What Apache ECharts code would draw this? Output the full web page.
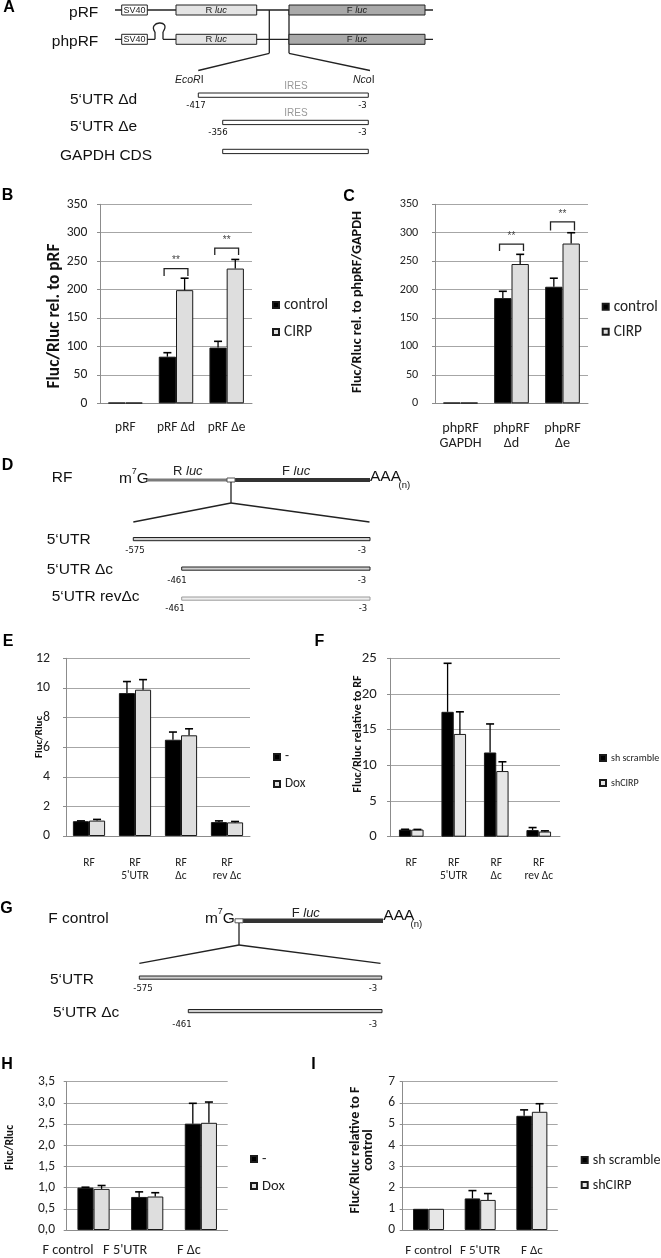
<!DOCTYPE html>
<html><head><meta charset="utf-8">
<script src="https://cdn.jsdelivr.net/npm/echarts@6/dist/echarts.min.js"></script>
<style>html,body{margin:0;padding:0;background:#fff}#c{width:661px;height:1258px}</style>
</head><body><div id="c"></div>
<script>
// ---------------- DATA ----------------
const catsB = ['pRF', 'pRF Δd', 'pRF Δe'];
const controlB = [1, 82, 98];
const controlBErr = [0, 7, 11];
const cirpB = [1, 199, 237];
const cirpBErr = [0, 21, 16];
const sigB = [[1, 237, 224], [2, 273, 261]];

const catsC = ['phpRF\nGAPDH', 'phpRF\nΔd', 'phpRF\nΔe'];
const controlC = [1, 185, 205];
const controlCErr = [0, 12, 15];
const cirpC = [1, 245, 281];
const cirpCErr = [0, 17, 19];
const sigC = [[1, 280, 268], [2, 319, 304]];

const catsE = ['RF', "RF\n5'UTR", 'RF\nΔc', 'RF\nrev Δc'];
const minusE = [1.0, 9.65, 6.5, 0.94];
const minusEErr = [0.02, 0.78, 0.52, 0.08];
const doxE = [1.04, 9.88, 6.8, 0.92];
const doxEErr = [0.08, 0.68, 0.44, 0.06];

const catsF = ['RF', "RF\n5'UTR", 'RF\nΔc', 'RF\nrev Δc'];
const scrambleF = [1.0, 17.5, 11.8, 0.93];
const scrambleFErr = [0.04, 6.8, 4.0, 0.35];
const shCirpF = [1.0, 14.4, 9.2, 0.72];
const shCirpFErr = [0.02, 3.1, 1.3, 0.1];

const catsH = ['F control', "F 5'UTR", 'F Δc'];
const minusH = [1.0, 0.78, 2.51];
const minusHErr = [0.01, 0.12, 0.48];
const doxH = [0.97, 0.79, 2.53];
const doxHErr = [0.08, 0.09, 0.49];

const catsI = ['F control', "F 5'UTR", 'F Δc'];
const scrambleI = [1.0, 1.49, 5.39];
const scrambleIErr = [0, 0.37, 0.28];
const shCirpI = [1.0, 1.42, 5.58];
const shCirpIErr = [0, 0.3, 0.38];

// ---------------- STYLE ----------------
const mctx = document.createElement('canvas').getContext('2d');
function hasFont(f) {
  mctx.font = '40px monospace'; const a = mctx.measureText('abcdefgWMil').width;
  mctx.font = '40px "' + f + '", monospace'; return mctx.measureText('abcdefgWMil').width !== a;
}
const CARLITO = hasFont('Carlito');
const FONT = CARLITO ? 'Carlito, Lato, sans-serif' : 'Lato, "Open Sans", sans-serif';
const DFONT = '"Liberation Sans", Arial, sans-serif';
const NFONT = '"Liberation Sans Narrow", "DejaVu Sans Condensed", "Liberation Sans", sans-serif';
const DARK = '#000000', LIGHT = '#dedede', EDGE = '#1a1a1a';

// size spec: number, or [text, target width, scale]
function sz(spec, weight) {
  if (typeof spec === 'number') return spec;
  mctx.font = (weight || 'normal') + ' 100px ' + FONT;
  const s = 100 * spec[1] / mctx.measureText(spec[0]).width;
  return Math.round(10 * s * (CARLITO ? 1 : (spec[2] || 1))) / 10;
}

const grids = [], xAxes = [], yAxes = [], series = [], legends = [];

function errRender(sign, pct) {
  return function (params, api) {
    const c = api.value(0), v = api.value(1), e = api.value(2);
    if (!(e > 0)) return null;
    const band = api.size([1, 0])[0];
    const p0 = api.coord([c, v]);
    const p1 = api.coord([c, v + e]);
    const x = p0[0] + sign * band * pct / 2;
    return {type: 'group', children: [
      {type: 'line', shape: {x1: x, y1: p0[1], x2: x, y2: p1[1]}, style: {stroke: '#000', lineWidth: 1.3}},
      {type: 'line', shape: {x1: x - 4, y1: p1[1], x2: x + 4, y2: p1[1]}, style: {stroke: '#000', lineWidth: 1.6}}
    ]};
  };
}
function bracketRender(params, api) {
  const c = api.value(0), top = api.value(1), bot = api.value(2);
  const band = api.size([1, 0])[0];
  const pt = api.coord([c, top]);
  const yb = api.coord([c, bot])[1];
  const xl = pt[0] - band * 0.235, xr = pt[0] + band * 0.235;
  return {type: 'group', children: [
    {type: 'polyline', shape: {points: [[xl, yb], [xl, pt[1]], [xr, pt[1]], [xr, yb]]}, style: {stroke: '#222', lineWidth: 1.3, fill: null}},
    {type: 'text', style: {text: '**', x: pt[0], y: pt[1] - 3, align: 'center', verticalAlign: 'bottom', textAlign: 'center', textVerticalAlign: 'bottom', fontSize: 10, fontFamily: DFONT, fill: '#444'}}
  ]};
}

function panel(cfg) {
  const k = grids.length;
  const [gl, gt, gw, gh] = cfg.g;
  grids.push({left: gl, top: gt, width: gw, height: gh, containLabel: false, outerBoundsMode: 'none'});
  const xs = sz(cfg.xl[0]);
  const xlh = cfg.xl[2] || Math.round(xs * 1.2);
  const xm = cfg.xl[1] - (gt + gh) - xlh / 2;
  xAxes.push({type: 'category', gridIndex: k, data: cfg.cats,
    axisLine: {lineStyle: {color: '#8c8c8c'}},
    axisTick: {length: 5, lineStyle: {color: '#8c8c8c'}},
    axisLabel: {interval: 0, margin: xm, fontFamily: FONT, fontSize: xs, lineHeight: xlh, color: '#222', align: cfg.xalign || 'center'}});
  const ys = sz(cfg.yt[0]);
  const ns = sz(cfg.yn[0], 'bold');
  const nlh = cfg.yn[3] || Math.round(ns * 1.15);
  const lines = cfg.yname.split('\n').length;
  const gap = gl - cfg.yn[1] - nlh * lines / 2;
  const shift = cfg.yn[2] - (gt + gh / 2);
  const pad = shift >= 0 ? [0, 2 * shift, 0, 0] : [0, 0, 0, -2 * shift];
  yAxes.push({type: 'value', gridIndex: k, min: 0, max: cfg.ymax, interval: cfg.yint,
    name: cfg.yname, nameLocation: 'middle', nameGap: gap, nameRotate: 90, nameMoveOverlap: false,
    nameTextStyle: {fontFamily: FONT, fontSize: ns, fontWeight: 'bold', color: '#111', lineHeight: nlh, padding: pad, align: 'center'},
    axisLine: {show: true, lineStyle: {color: '#8c8c8c'}},
    axisTick: {show: true, length: 3, lineStyle: {color: '#8c8c8c'}},
    splitLine: {show: true, lineStyle: {color: '#a6a6a6'}},
    axisLabel: {margin: gl - cfg.yt[1], fontFamily: FONT, fontSize: ys, color: '#222', formatter: cfg.yfmt}});
  const bw = cfg.bw;
  series.push({type: 'bar', name: cfg.n1, xAxisIndex: k, yAxisIndex: k, data: cfg.s1, barWidth: (bw * 100) + '%', barGap: '0%',
    itemStyle: {color: DARK, borderColor: EDGE, borderWidth: 1}});
  series.push({type: 'bar', name: cfg.n2, xAxisIndex: k, yAxisIndex: k, data: cfg.s2, barWidth: (bw * 100) + '%', barGap: '0%',
    itemStyle: {color: cfg.c2 || LIGHT, borderColor: EDGE, borderWidth: 1}});
  series.push({type: 'custom', xAxisIndex: k, yAxisIndex: k, z: 5, renderItem: errRender(-1, bw),
    encode: {x: 0, y: 1}, data: cfg.s1.map((v, i) => [i, v, cfg.e1[i]])});
  series.push({type: 'custom', xAxisIndex: k, yAxisIndex: k, z: 5, renderItem: errRender(1, bw),
    encode: {x: 0, y: 1}, data: cfg.s2.map((v, i) => [i, v, cfg.e2[i]])});
  if (cfg.sig) series.push({type: 'custom', xAxisIndex: k, yAxisIndex: k, z: 6, renderItem: bracketRender,
    encode: {x: 0, y: 1}, data: cfg.sig});
  const ls = sz(cfg.lg[0]);
  const llh = Math.round(ls * 1.2);
  legends.push({data: [cfg.n1, cfg.n2], left: cfg.lg[1], top: cfg.lg[2] - llh / 2, orient: 'vertical', icon: 'rect', padding: 0,
    itemWidth: 6, itemHeight: 6, itemGap: (cfg.lg[3] - cfg.lg[2]) - llh, selectedMode: false,
    textStyle: {fontFamily: FONT, fontSize: ls, color: '#222', lineHeight: llh}});
}

panel({cats: catsB, s1: controlB, e1: controlBErr, s2: cirpB, e2: cirpBErr, sig: sigB, n1: 'control', n2: 'CIRP',
  g: [100, 204.3, 152, 199], ymax: 350, yint: 50, yname: 'Fluc/Rluc rel. to pRF',
  yn: [['Fluc/Rluc rel. to pRF', 145, 0.9], 55, 316], yt: [['350', 20.7], 87.3], xl: [['pRF Δd', 38, 1.05], 428],
  bw: 0.34, lg: [['control', 44, 1.05], 272, 305, 332]});
panel({cats: catsC, s1: controlC, e1: controlCErr, s2: cirpC, e2: cirpCErr, sig: sigC, n1: 'control', n2: 'CIRP',
  g: [435, 204.3, 153, 199], ymax: 350, yint: 50, yname: 'Fluc/Rluc rel. to phpRF/GAPDH',
  yn: [['Fluc/Rluc rel. to phpRF/GAPDH', 182, 1.03], 357.5, 302], yt: [['350', 18.5], 418.3], xl: [['phpRF', 36.7, 1.05], 428.3, 15],
  bw: 0.34, lg: [['control', 44, 1.05], 601.7, 306.7, 331.7]});
panel({cats: catsE, s1: minusE, e1: minusEErr, s2: doxE, e2: doxEErr, n1: '-', n2: 'Dox',
  g: [66, 658.3, 184, 177.7], ymax: 12, yint: 2, yname: 'Fluc/Rluc',
  yn: [['Fluc/Rluc', 42, 1.15], 39, 737], yt: [['12', 14], 50], xl: [["5'UTR", 27.7, 1.12], 863, 13],
  bw: 0.35, lg: [['Dox', 20.5, 1.1], 273, 757, 784]});
panel({cats: catsF, s1: scrambleF, e1: scrambleFErr, s2: shCirpF, e2: shCirpFErr, n1: 'sh scramble', n2: 'shCIRP', c2: '#e6e6e6',
  g: [390, 658.3, 170, 178.4], ymax: 25, yint: 5, yname: 'Fluc/Rluc relative to RF',
  yn: [['Fluc/Rluc relative to RF', 118, 1.03], 358, 734], yt: [['25', 15], 376.7], xl: [["5'UTR", 27.7, 1.12], 863, 13],
  bw: 0.29, lg: [10, 599, 758, 783]});
panel({cats: catsH, s1: minusH, e1: minusHErr, s2: doxH, e2: doxHErr, n1: '-', n2: 'Dox',
  g: [66.7, 1081.7, 161, 148.3], ymax: 3.5, yint: 0.5, yname: 'Fluc/Rluc',
  yfmt: v => v.toFixed(1).replace('.', ','),
  yn: [['Fluc/Rluc', 45, 1.12], 10.5, 1147.5], yt: [['3,5', 17], 55], xl: [['F control', 51], 1250.7],
  xalign: 'right', bw: 0.30, lg: [['Dox', 22.7, 1.1], 250, 1159, 1186]});
panel({cats: catsI, s1: scrambleI, e1: scrambleIErr, s2: shCirpI, e2: shCirpIErr, n1: 'sh scramble', n2: 'shCIRP', c2: '#e6e6e6',
  g: [402.7, 1081.7, 155, 148.3], ymax: 7, yint: 1, yname: 'Fluc/Rluc relative to F\ncontrol',
  yn: [['Fluc/Rluc relative to F', 127], 361.5, 1150, 13], yt: [['3,5', 17], 395], xl: [['F control', 46.7], 1250.7],
  bw: 0.30, lg: [['sh scramble', 68], 580.7, 1160, 1185]});

// ---------------- DIAGRAMS (graphic) ----------------
const G = [];
function T(x, y, text, o) {
  o = o || {};
  const al = o.align || 'left';
  const st = {text: text, fill: o.fill || '#111', align: al, textAlign: al, verticalAlign: 'middle', textVerticalAlign: 'middle',
    fontSize: o.size || 15.5, fontFamily: o.family || DFONT, fontStyle: o.style || 'normal', fontWeight: o.weight || 'normal'};
  if (o.rich) st.rich = o.rich;
  G.push({type: 'text', x: x, y: y, silent: true, style: st});
}
function L(x1, y1, x2, y2, c, w) {
  G.push({type: 'line', silent: true, shape: {x1, y1, x2, y2}, style: {stroke: c || '#222', lineWidth: w || 1.3}});
}
function R(x, y, w, h, fill, stroke, lw) {
  G.push({type: 'rect', silent: true, shape: {x, y, width: w, height: h}, style: {fill: fill, stroke: stroke || '#222', lineWidth: lw || 1}});
}
function lucRich(size) {
  return {n: {fontSize: size, fontFamily: DFONT, fill: '#222'}, i: {fontSize: size, fontFamily: DFONT, fontStyle: 'italic', fill: '#222'}};
}

[['A', 9, 7.5], ['B', 7.5, 196], ['C', 349, 197], ['D', 7.5, 465.5], ['E', 8, 642], ['F', 319.5, 642],
 ['G', 6.5, 909], ['H', 7, 1064.5], ['I', 313.5, 1064.5]].forEach(a => T(a[1], a[2], a[0], {align: 'center', size: 16, weight: 'bold', fill: '#000'}));

// --- A ---
T(98.3, 13, 'pRF', {align: 'right'});
T(98.3, 41.5, 'phpRF', {align: 'right'});
L(115, 10, 433, 10);
L(115, 39.3, 155, 39.3);
L(155, 39.3, 155, 32);
G.push({type: 'bezierCurve', silent: true, shape: {x1: 155, y1: 32, cpx1: 147, cpy1: 21, cpx2: 172, cpy2: 19, x2: 163, y2: 32}, style: {stroke: '#222', lineWidth: 1.3, fill: null}});
L(163, 32, 163, 39.3);
L(163, 39.3, 433, 39.3);
L(269.3, 10, 269.3, 53.3);
L(289, 10, 289, 53.3);
L(269.3, 53.3, 198.3, 70.5);
L(289, 53.3, 370, 70.5);
[5, 34.3].forEach(y => {
  R(121.7, y, 25.6, 10, '#fff');
  T(134.5, y + 5.2, 'SV40', {align: 'center', size: 9, fill: '#222'});
  R(176, y, 80.7, 10, '#e4e4e4');
  T(216.3, y + 5.2, '{n|R }{i|luc}', {align: 'center', size: 9.5, rich: lucRich(9.5)});
  R(289, y, 136, 10, '#a9a9a9');
  T(357, y + 5.2, '{n|F }{i|luc}', {align: 'center', size: 9.5, rich: lucRich(9.5)});
});
T(175, 80, '{i|EcoR}{n|I}', {size: 10.5, rich: lucRich(10.5)});
T(353, 80, '{i|Nco}{n|I}', {size: 10.5, rich: lucRich(10.5)});
T(70, 100, '5‘UTR Δd');
T(296, 86, 'IRES', {align: 'center', size: 10, fill: '#9a9a9a'});
R(198.3, 93, 170, 4.3, '#fff');
T(196, 106, '-417', {align: 'center', size: 9.5, family: NFONT});
T(362.5, 106, '-3', {align: 'center', size: 9.5, family: NFONT});
T(70, 127, '5‘UTR Δe');
T(296, 113, 'IRES', {align: 'center', size: 10, fill: '#9a9a9a'});
R(222.7, 120.3, 145.6, 4.3, '#fff');
T(218, 133, '-356', {align: 'center', size: 9.5, family: NFONT});
T(362.5, 133, '-3', {align: 'center', size: 9.5, family: NFONT});
T(60, 156, 'GAPDH CDS');
R(222.7, 149.3, 145.6, 4.3, '#fff');

// --- D ---
T(51.7, 478, 'RF');
T(119, 479, 'm');
T(131.7, 472, '7', {size: 9});
T(136.7, 479, 'G');
L(147, 480, 227, 480, '#7a7a7a', 3);
L(235, 480, 370, 480, '#333', 4);
R(227, 478, 8, 4, '#fff', '#555', 1);
T(370, 477, 'AAA');
T(398.5, 485, '(n)', {size: 9.5});
T(173, 471, '{n|R }{i|luc}', {size: 13, rich: lucRich(13)});
T(282, 471, '{n|F }{i|luc}', {size: 13, rich: lucRich(13)});
L(231, 482, 231, 503);
L(231, 503, 133.3, 522);
L(231, 503, 369.5, 522);
T(46.7, 540, '5‘UTR');
R(133.3, 537.5, 236.7, 3.2, '#cfcfcf', '#222', 1);
T(135, 551, '-575', {align: 'center', size: 9.5, family: NFONT});
T(362, 551, '-3', {align: 'center', size: 9.5, family: NFONT});
T(46.7, 570, '5‘UTR Δc');
R(181.7, 567, 188.3, 3.2, '#cfcfcf', '#222', 1);
T(177, 581, '-461', {align: 'center', size: 9.5, family: NFONT});
T(362, 581, '-3', {align: 'center', size: 9.5, family: NFONT});
T(51.7, 597, '5‘UTR revΔc');
R(181.7, 597, 188.3, 3.2, '#eeeeee', '#9a9a9a', 1);
T(175, 608.5, '-461', {align: 'center', size: 9.5, family: NFONT});
T(363, 609, '-3', {align: 'center', size: 9.5, family: NFONT});

// --- G ---
T(48.3, 918.5, 'F control');
T(205, 919, 'm');
T(217.7, 912, '7', {size: 9});
T(222.7, 919, 'G');
L(243, 920.8, 383, 920.8, '#333', 4.5);
R(235, 918.8, 8, 4, '#fff', '#555', 1);
T(383.3, 916, 'AAA');
T(410.5, 924.5, '(n)', {size: 9.5});
T(291.7, 913, '{n|F }{i|luc}', {size: 13, rich: lucRich(13)});
L(239, 923, 239, 945);
L(239, 945, 139.3, 963.3);
L(239, 945, 380.5, 963.3);
T(50, 980, '5‘UTR');
R(139.3, 976, 242.4, 3.2, '#cfcfcf', '#222', 1);
T(143, 989, '-575', {align: 'center', size: 9.5, family: NFONT});
T(373, 989, '-3', {align: 'center', size: 9.5, family: NFONT});
T(53, 1013, '5‘UTR Δc');
R(188.3, 1009.5, 193.7, 3.2, '#cfcfcf', '#222', 1);
T(182, 1025, '-461', {align: 'center', size: 9.5, family: NFONT});
T(373, 1024.5, '-3', {align: 'center', size: 9.5, family: NFONT});

const chart = echarts.init(document.getElementById('c'), null, {renderer: 'canvas'});
chart.setOption({
  animation: false,
  backgroundColor: '#ffffff',
  grid: grids, xAxis: xAxes, yAxis: yAxes, legend: legends, series: series,
  graphic: {elements: G}
});
</script>
</body></html>
